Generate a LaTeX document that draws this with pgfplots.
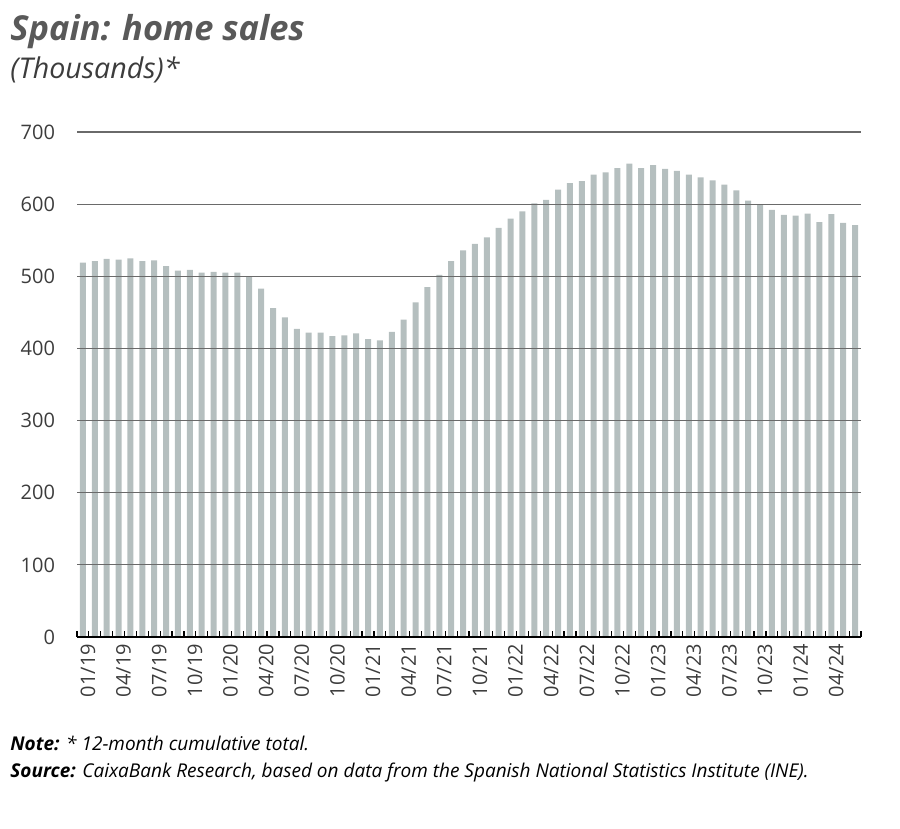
\documentclass[border=0pt]{standalone}
\usepackage{pgfplots}
\pgfplotsset{compat=1.18}
\usepackage{fontspec}
\setmainfont{Open Sans}
\definecolor{barc}{HTML}{B5BFBF}
\definecolor{txt}{HTML}{3C3C3C}
\definecolor{ttl}{HTML}{595959}
\definecolor{gridc}{HTML}{6A6A6A}
\begin{document}
\begin{tikzpicture}[x=1pt,y=1pt]
\useasboundingbox (0,0) rectangle (450,414.5);
\begin{axis}[
  at={(38.5pt,96pt)}, anchor=south west,
  scale only axis, width=392pt, height=252.5pt,
  xmin=0.5, xmax=66.5, ymin=0, ymax=700,
  ybar, bar width=3pt,
  axis on top,
  axis x line*=bottom, axis y line*=left,
  y axis line style={draw=none},
  x axis line style={black, line width=0.9pt, -},
  ytick={0,100,...,700},
  ytick style={draw=none},
  ymajorgrids, grid style={color=gridc, line width=0.6pt},
  xtick={1,4,...,64},
  xticklabels={01/19,04/19,07/19,10/19,01/20,04/20,07/20,10/20,01/21,04/21,07/21,10/21,01/22,04/22,07/22,10/22,01/23,04/23,07/23,10/23,01/24,04/24},
  major x tick style={draw=none},
  minor xtick={0.5,1.5,...,66.5},
  minor x tick style={black, line width=0.6pt},
  minor tick length=3pt,
  tick align=inside,
  /pgf/number format/assume math mode=true,
  xticklabel style={rotate=90, anchor=east, font=\fontsize{10}{11}\selectfont, text=txt, yshift=-2.5pt},
  yticklabel style={font=\fontsize{10}{11}\selectfont, text=txt, xshift=-7.5pt},
]
\addplot[fill=barc, draw=none] coordinates {
(1,519) (2,521) (3,524) (4,523) (5,525) (6,521) (7,522) (8,514) (9,508) (10,509)
(11,505) (12,506) (13,505) (14,505) (15,499) (16,483) (17,456) (18,443) (19,427) (20,422)
(21,422) (22,417) (23,418) (24,421) (25,413) (26,411) (27,423) (28,440) (29,464) (30,485)
(31,502) (32,521) (33,536) (34,545) (35,554) (36,567) (37,580) (38,590) (39,601) (40,606)
(41,620) (42,629) (43,632) (44,641) (45,644) (46,650) (47,656) (48,650) (49,654) (50,649)
(51,646) (52,641) (53,637) (54,633) (55,627) (56,619) (57,605) (58,600) (59,592) (60,585)
(61,584) (62,587) (63,575) (64,586) (65,574) (66,571)
};
\end{axis}
\node[anchor=base west, inner sep=0, font=\fontsize{17.2}{20}\selectfont\bfseries\itshape, text=ttl] at (5,394) {Spain: home sales};
\node[anchor=base west, inner sep=0, font=\fontsize{14.3}{17}\selectfont\itshape, text=txt] at (5,375) {(Thousands)*};
\node[anchor=base west, inner sep=0, font=\fontsize{9.5}{11}\selectfont, text=black] at (5,39) {\textbf{\textit{Note:}} \textit{* 12-month cumulative total.}};
\node[anchor=base west, inner sep=0, font=\fontsize{9.5}{11}\selectfont, text=black] at (5,25.5) {\textbf{\textit{Source:}} \textit{CaixaBank Research, based on data from the Spanish National Statistics Institute (INE).}};
\end{tikzpicture}
\end{document}
